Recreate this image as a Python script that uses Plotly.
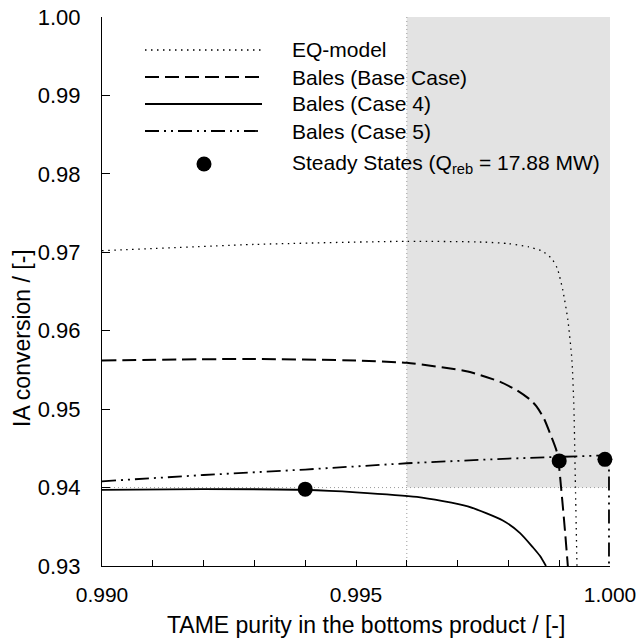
import plotly.graph_objects as go

# ---------------- data ----------------
eq_x = [0.9900, 0.9930, 0.9960, 0.9975, 0.9980, 0.9984, 0.99868, 0.99885, 0.99896,
        0.99907, 0.99917, 0.99925, 0.99929, 0.99932, 0.99935]
eq_y = [0.9702, 0.9710, 0.9714, 0.9713, 0.9711, 0.9707, 0.9701, 0.9692, 0.9680,
        0.9652, 0.9614, 0.9563, 0.9500, 0.9400, 0.9300]

base_x = [0.9900, 0.9930, 0.9950, 0.9960, 0.9972, 0.99783, 0.99817, 0.99843, 0.99856,
          0.99870, 0.99882, 0.99896, 0.99906, 0.99912, 0.99917]
base_y = [0.9562, 0.9564, 0.9562, 0.9559, 0.9548, 0.9535, 0.9524, 0.9512, 0.9503,
          0.9488, 0.9469, 0.9444, 0.9384, 0.9340, 0.9300]

case4_x = [0.9900, 0.9920, 0.9940, 0.9950, 0.9962, 0.9972, 0.99789, 0.99823, 0.99848,
           0.99862, 0.99874]
case4_y = [0.9397, 0.9398, 0.9397, 0.9394, 0.9388, 0.9376, 0.9358, 0.9342, 0.9324,
           0.9313, 0.9300]

case5_x = [0.9900, 0.9920, 0.9940, 0.9960, 0.9980, 0.9990, 0.9995, 0.99990, 0.99998, 0.99998]
case5_y = [0.9408, 0.9416, 0.9423, 0.9431, 0.9437, 0.9439, 0.9440, 0.9441, 0.9440, 0.9300]

ss_x = [0.9940, 0.9990, 0.9999]
ss_y = [0.9398, 0.9434, 0.9436]

region_x = [0.996, 1.000]
region_y = [0.940, 1.000]

x_range = [0.990, 1.000]
y_range = [0.930, 1.000]
x_ticks = [0.990, 0.995, 1.000]
x_ticklabels = ["0.990", "0.995", "1.000"]
y_ticks = [0.93, 0.94, 0.95, 0.96, 0.97, 0.98, 0.99, 1.00]
y_ticklabels = ["0.93", "0.94", "0.95", "0.96", "0.97", "0.98", "0.99", "1.00"]

x_title = "TAME purity in the bottoms product / [-]"
y_title = "IA conversion / [-]"
legend_names = ["EQ-model", "Bales (Base Case)", "Bales (Case 4)", "Bales (Case 5)",
                "Steady States (Q<sub>reb</sub> = 17.88 MW)"]

# ---------------- styles ----------------
FONT = "Liberation Sans, Arial, Helvetica, sans-serif"
dash_eq = "1.5px,4.5px"
dash_base = "14px,6px"
dash_c5 = "14px,5px,2px,5px,2px,5px"
styles = [
    dict(color="black", width=1.3, dash=dash_eq),
    dict(color="black", width=2, dash=dash_base),
    dict(color="black", width=1.8, dash="solid"),
    dict(color="black", width=1.8, dash=dash_c5),
]
shapes_kind = ["spline", "spline", "spline", "linear"]

fig = go.Figure()
series = [(eq_x, eq_y), (base_x, base_y), (case4_x, case4_y), (case5_x, case5_y)]
for (xs, ys), st, nm, kind in zip(series, styles, legend_names, shapes_kind):
    line = dict(st, shape=kind)
    if kind == "spline":
        line["smoothing"] = 0.6
    fig.add_trace(go.Scatter(x=xs, y=ys, mode="lines", line=line, name=nm,
                             showlegend=False))
fig.add_trace(go.Scatter(x=ss_x, y=ss_y, mode="markers", name=legend_names[4],
                         marker=dict(color="black", size=15), showlegend=False,
                         cliponaxis=False))

shapes = []
shapes.append(dict(type="rect", xref="x", yref="y", x0=region_x[0], x1=region_x[1],
                   y0=region_y[0], y1=region_y[1], fillcolor="#e3e3e3",
                   line=dict(width=0), layer="below"))
shapes.append(dict(type="line", xref="x", yref="y", x0=region_x[0], x1=region_x[0],
                   y0=y_range[0], y1=y_range[1],
                   line=dict(color="#9a9a9a", width=1, dash="1px,3px"), layer="below"))
shapes.append(dict(type="line", xref="x", yref="y", x0=x_range[0], x1=x_range[1],
                   y0=region_y[0], y1=region_y[0],
                   line=dict(color="#9a9a9a", width=1, dash="1px,3px"), layer="below"))
shapes.append(dict(type="rect", xref="paper", yref="paper", x0=0.600, x1=1.0,
                   y0=0.695, y1=0.757, fillcolor="white", line=dict(width=0),
                   layer="below"))

PW, PH, L, T = 508, 549, 102, 17
def px(xp):
    return (xp - L) / PW
def py(yp):
    return (T + PH - yp) / PH

row_y = [50, 77, 104, 131, 164]
annotations = []
for i in range(4):
    shapes.append(dict(type="line", xref="paper", yref="paper", x0=px(145), x1=px(262),
                       y0=py(row_y[i]), y1=py(row_y[i]), line=styles[i]))
shapes.append(dict(type="circle", xref="paper", yref="paper",
                   x0=px(204 - 7.5), x1=px(204 + 7.5),
                   y0=py(row_y[4] + 7.5), y1=py(row_y[4] - 7.5),
                   fillcolor="black", line=dict(width=0)))
for i, nm in enumerate(legend_names):
    annotations.append(dict(xref="paper", yref="paper", x=px(290), y=py(row_y[i]),
                            text=nm, showarrow=False, xanchor="left", yanchor="middle",
                            font=dict(family=FONT, size=21, color="black")))

annotations.append(dict(xref="paper", yref="paper", x=px(366), y=py(625), text=x_title,
                        showarrow=False, xanchor="center", yanchor="middle",
                        font=dict(family=FONT, size=23, color="black")))
annotations.append(dict(xref="paper", yref="paper", x=px(22), y=py(338), text=y_title,
                        showarrow=False, xanchor="center", yanchor="middle",
                        textangle=-90, font=dict(family=FONT, size=23, color="black")))

fig.update_layout(
    width=637, height=643,
    margin=dict(l=L, r=637 - L - PW, t=T, b=643 - T - PH),
    plot_bgcolor="white", paper_bgcolor="white",
    font=dict(family=FONT, size=21, color="black"),
    shapes=shapes, annotations=annotations,
    showlegend=False,
)
fig.update_xaxes(range=x_range, tickvals=x_ticks, ticktext=x_ticklabels,
                 ticks="inside", ticklen=6, tickwidth=1, tickcolor="black",
                 minor=dict(dtick=0.001, ticks="inside", ticklen=6, tickcolor="black",
                            tickwidth=1, showgrid=False),
                 showline=True, linecolor="black", linewidth=1, showgrid=False,
                 zeroline=False, ticklabelstandoff=10, automargin=False,
                 tickfont=dict(size=21))
fig.update_yaxes(range=y_range, tickvals=y_ticks, ticktext=y_ticklabels,
                 ticks="inside", ticklen=8, tickwidth=1, tickcolor="black",
                 showline=True, linecolor="black", linewidth=1, showgrid=False,
                 zeroline=False, ticklabelstandoff=16, automargin=False,
                 tickfont=dict(size=22))

fig.write_html("out.html")
